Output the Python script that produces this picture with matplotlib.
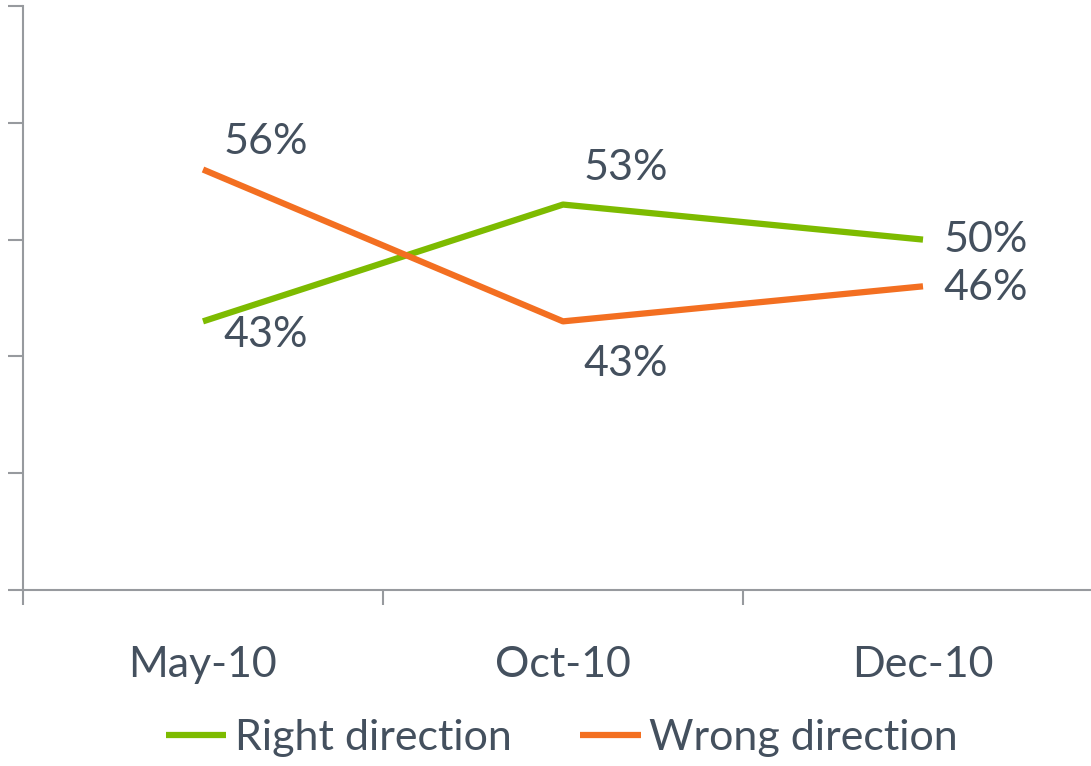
import matplotlib
matplotlib.use("Agg")
import matplotlib.pyplot as plt
from matplotlib.ticker import MultipleLocator, FixedLocator

categories = ["May-10", "Oct-10", "Dec-10"]
right_direction = [43, 53, 50]
wrong_direction = [56, 43, 46]

plt.rcParams['font.family'] = ['Lato', 'DejaVu Sans']
text_color = "#44505E"
axis_color = "#979A9E"
green = "#7DBB00"
orange = "#F36F21"

fig = plt.figure(figsize=(10.91, 7.66), dpi=100)
ax = fig.add_axes([23/1091, 176/766, 1080/1091, (590-6)/766])

x = list(range(len(categories)))
ax.plot(x, right_direction, color=green, lw=4.5, solid_capstyle='butt', label="Right direction")
ax.plot(x, wrong_direction, color=orange, lw=4.5, solid_capstyle='butt', label="Wrong direction")

ax.set_xlim(-0.5, 2.5)
ax.set_ylim(20, 70)
ax.yaxis.set_major_locator(MultipleLocator(10))
ax.set_yticklabels([])
ax.xaxis.set_major_locator(FixedLocator([-0.5, 0.5, 1.5, 2.5]))
ax.xaxis.set_minor_locator(FixedLocator(x))
ax.set_xticklabels([])
ax.set_xticklabels(categories, minor=True)
ax.tick_params(axis='x', which='minor', length=0, pad=40, labelsize=31, labelcolor=text_color)
ax.tick_params(axis='x', which='major', length=11, width=1.5, color=axis_color, direction='out')
ax.tick_params(axis='y', which='major', length=11, width=1.5, color=axis_color, direction='out')

for s in ['top', 'right']:
    ax.spines[s].set_visible(False)
for s in ['left', 'bottom']:
    ax.spines[s].set_color(axis_color)
    ax.spines[s].set_linewidth(1.5)

fs = 31
offs_r = [(15, -10, 'left', 'center'), (15, 26, 'left', 'center'), (15, 0, 'left', 'center')]
for xi, v, (dx, dy, ha, va) in zip(x, right_direction, offs_r):
    ax.annotate(f"{v}%", (xi, v), xytext=(dx, dy), textcoords='offset points',
                ha=ha, va=va, fontsize=fs, color=text_color)
offs_w = [(15, 20, 'left', 'center'), (15, -31, 'left', 'center'), (15, -1, 'left', 'center')]
for xi, v, (dx, dy, ha, va) in zip(x, wrong_direction, offs_w):
    ax.annotate(f"{v}%", (xi, v), xytext=(dx, dy), textcoords='offset points',
                ha=ha, va=va, fontsize=fs, color=text_color)

leg = fig.legend(loc='center', bbox_to_anchor=(0.515, 28/766), ncol=2, frameon=False,
                 fontsize=31, handlelength=1.4, handletextpad=0.2, columnspacing=1.6)
for t in leg.get_texts():
    t.set_color(text_color)

fig.savefig("out.png", dpi=100)
